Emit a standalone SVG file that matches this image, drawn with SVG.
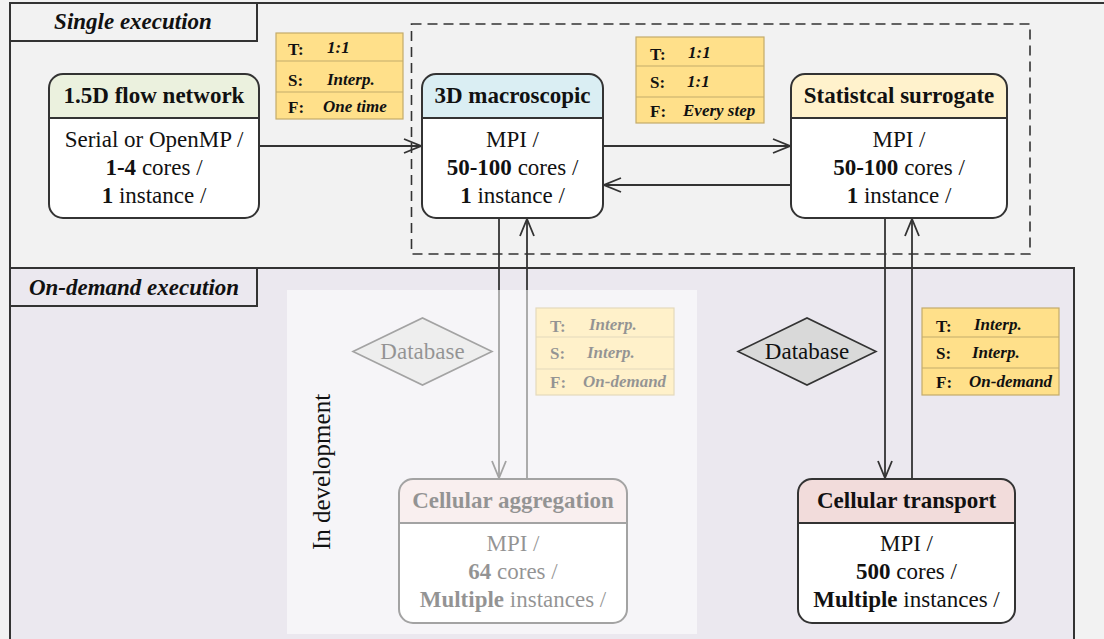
<svg xmlns="http://www.w3.org/2000/svg" width="1104" height="639" viewBox="0 0 1104 639" font-family="'Liberation Serif', Tinos, 'Times New Roman', 'DejaVu Serif', serif">
<style>
text{font-family:'Liberation Serif', Tinos, 'Times New Roman', 'DejaVu Serif', serif;fill:#111}
.title{font-weight:bold;font-size:23px;text-anchor:middle}
.body{font-size:23px;text-anchor:middle}
.b{font-weight:bold}
.lab{font-weight:bold;font-style:italic;font-size:23px;text-anchor:middle}
.tl{font-weight:bold;font-size:17px}
.tv{font-weight:bold;font-style:italic;font-size:17px}
.box{fill:#fff;stroke:none}
.outline{fill:none;stroke:#333;stroke-width:2}
.div{stroke:#333;stroke-width:2}
.tag{fill:#ffe08a;stroke:#c4ab6a;stroke-width:1.2}
.tagl{stroke:#c4ab6a;stroke-width:1.2}
.conn{stroke:#333;stroke-width:1.8;fill:none;marker-end:url(#arr)}
.frame{stroke:#333;stroke-width:2}
</style>
<defs>
<marker id="arr" viewBox="-19 -9 21 18" refX="0" refY="0" markerWidth="21" markerHeight="18" markerUnits="userSpaceOnUse" orient="auto">
<path d="M-17,-7 L0,0 L-17,7" fill="none" stroke="#333" stroke-width="1.8"/>
</marker>
</defs>
<rect x="0" y="0" width="1104" height="639" fill="#f2f2f2"/>
<g id="frames">
<line class="frame" x1="10" y1="3" x2="1104" y2="3"/>
<line class="frame" x1="10" y1="3" x2="10" y2="639"/>
<rect x="10" y="268" width="1064" height="380" fill="#ebe8ef" stroke="#333" stroke-width="2"/>
<rect x="10" y="3" width="247" height="38" fill="#f2f2f2" stroke="#333" stroke-width="2"/>
<text class="lab" x="133" y="29">Single execution</text>
<rect x="10" y="268" width="247" height="38" fill="#ebe8ef" stroke="#333" stroke-width="2"/>
<text class="lab" x="134" y="295">On-demand execution</text>
<rect x="411.5" y="24" width="618.5" height="230" fill="none" stroke="#333" stroke-width="1.6" stroke-dasharray="10,6"/>
</g>
<g id="connectors">
<line class="conn" x1="259" y1="146" x2="421" y2="146"/>
<line class="conn" x1="603" y1="146" x2="790" y2="146"/>
<line class="conn" x1="791" y1="185" x2="604" y2="185"/>
<line class="conn" x1="499" y1="218" x2="499" y2="478"/>
<line class="conn" x1="527" y1="479" x2="527" y2="219"/>
<line class="conn" x1="885" y1="218" x2="885" y2="478"/>
<line class="conn" x1="912" y1="479" x2="912" y2="219"/>
</g>
<g id="tag1">
<rect class="tag" x="276" y="33" width="127" height="86"/>
<line class="tagl" x1="276" y1="61" x2="403" y2="61"/>
<line class="tagl" x1="276" y1="92" x2="403" y2="92"/>
<text class="tl" x="288" y="55">T:</text><text class="tv" x="327" y="53">1:1</text>
<text class="tl" x="288" y="86">S:</text><text class="tv" x="327" y="85">Interp.</text>
<text class="tl" x="288" y="113">F:</text><text class="tv" x="323" y="112">One time</text>
</g>
<g id="tag2">
<rect class="tag" x="636" y="37" width="128" height="86"/>
<line class="tagl" x1="636" y1="66" x2="764" y2="66"/>
<line class="tagl" x1="636" y1="97" x2="764" y2="97"/>
<text class="tl" x="650" y="60">T:</text><text class="tv" x="688" y="58">1:1</text>
<text class="tl" x="650" y="88">S:</text><text class="tv" x="687" y="87">1:1</text>
<text class="tl" x="650" y="117">F:</text><text class="tv" x="683" y="116">Every step</text>
</g>
<g id="tag3">
<rect class="tag" x="922" y="308" width="137" height="87"/>
<line class="tagl" x1="922" y1="337" x2="1059" y2="337"/>
<line class="tagl" x1="922" y1="368" x2="1059" y2="368"/>
<text class="tl" x="936" y="332">T:</text><text class="tv" x="974" y="330">Interp.</text>
<text class="tl" x="936" y="359">S:</text><text class="tv" x="972" y="358">Interp.</text>
<text class="tl" x="936" y="388">F:</text><text class="tv" x="969" y="387">On-demand</text>
</g>
<g id="tag4">
<rect class="tag" x="536" y="308" width="138" height="87"/>
<line class="tagl" x1="536" y1="337" x2="674" y2="337"/>
<line class="tagl" x1="536" y1="369" x2="674" y2="369"/>
<text class="tl" x="550" y="332">T:</text><text class="tv" x="589" y="330">Interp.</text>
<text class="tl" x="550" y="359">S:</text><text class="tv" x="587" y="358">Interp.</text>
<text class="tl" x="550" y="388">F:</text><text class="tv" x="583" y="387">On-demand</text>
</g>
<g id="node-flow">
<rect class="box" x="49" y="74" width="210" height="144" rx="14"/>
<path d="M49,118 V88 A14,14 0 0 1 63,74 H245 A14,14 0 0 1 259,88 V118 Z" fill="#ebf1de"/>
<line class="div" x1="49" y1="118" x2="259" y2="118"/>
<rect class="outline" x="49" y="74" width="210" height="144" rx="14"/>
<text class="title" x="154" y="103">1.5D flow network</text>
<text class="body" x="154" y="147">Serial or OpenMP /</text>
<text class="body" x="154" y="175"><tspan class="b">1-4</tspan> cores /</text>
<text class="body" x="154" y="203"><tspan class="b">1</tspan> instance /</text>
</g>
<g id="node-macro">
<rect class="box" x="422" y="74" width="181" height="144" rx="14"/>
<path d="M422,118 V88 A14,14 0 0 1 436,74 H589 A14,14 0 0 1 603,88 V118 Z" fill="#daeef3"/>
<line class="div" x1="422" y1="118" x2="603" y2="118"/>
<rect class="outline" x="422" y="74" width="181" height="144" rx="14"/>
<text class="title" x="512.5" y="103">3D macroscopic</text>
<text class="body" x="512.5" y="147">MPI /</text>
<text class="body" x="512.5" y="175"><tspan class="b">50-100</tspan> cores /</text>
<text class="body" x="512.5" y="203"><tspan class="b">1</tspan> instance /</text>
</g>
<g id="node-surrogate">
<rect class="box" x="791" y="74" width="216" height="144" rx="14"/>
<path d="M791,118 V88 A14,14 0 0 1 805,74 H993 A14,14 0 0 1 1007,88 V118 Z" fill="#fff2cc"/>
<line class="div" x1="791" y1="118" x2="1007" y2="118"/>
<rect class="outline" x="791" y="74" width="216" height="144" rx="14"/>
<text class="title" x="899" y="103">Statistcal surrogate</text>
<text class="body" x="899" y="147">MPI /</text>
<text class="body" x="899" y="175"><tspan class="b">50-100</tspan> cores /</text>
<text class="body" x="899" y="203"><tspan class="b">1</tspan> instance /</text>
</g>
<g id="node-db2">
<polygon points="738,351.5 807,318 876,351.5 807,385" fill="#d9d9d9" stroke="#333" stroke-width="1.6"/>
<text class="body" x="807" y="359">Database</text>
</g>
<g id="node-transport">
<rect class="box" x="798" y="479" width="217" height="144" rx="14"/>
<path d="M798,523 V493 A14,14 0 0 1 812,479 H1001 A14,14 0 0 1 1015,493 V523 Z" fill="#f2dcdb"/>
<line class="div" x1="798" y1="523" x2="1015" y2="523"/>
<rect class="outline" x="798" y="479" width="217" height="144" rx="14"/>
<text class="title" x="906.5" y="508">Cellular transport</text>
<text class="body" x="906.5" y="551">MPI /</text>
<text class="body" x="906.5" y="579"><tspan class="b">500</tspan> cores /</text>
<text class="body" x="906.5" y="607"><tspan class="b">Multiple</tspan> instances /</text>
</g>
<g id="node-db1">
<polygon points="353,351.5 422.5,318 492,351.5 422.5,385" fill="#d9d9d9" stroke="#333" stroke-width="1.6"/>
<text class="body" x="422.5" y="359">Database</text>
</g>
<g id="node-aggregation">
<rect class="box" x="399" y="479" width="228" height="144" rx="14"/>
<path d="M399,523 V493 A14,14 0 0 1 413,479 H613 A14,14 0 0 1 627,493 V523 Z" fill="#f2dcdb"/>
<line class="div" x1="399" y1="523" x2="627" y2="523"/>
<rect class="outline" x="399" y="479" width="228" height="144" rx="14"/>
<text class="title" x="513" y="508">Cellular aggregation</text>
<text class="body" x="513" y="551">MPI /</text>
<text class="body" x="513" y="579"><tspan class="b">64</tspan> cores /</text>
<text class="body" x="513" y="607"><tspan class="b">Multiple</tspan> instances /</text>
</g>
<g id="in-development">
<rect x="287" y="290" width="410" height="344" fill="#ffffff" fill-opacity="0.55"/>
<text x="0" y="0" font-size="25" text-anchor="middle" transform="translate(330,472) rotate(-90)">In development</text>
</g>
</svg>
